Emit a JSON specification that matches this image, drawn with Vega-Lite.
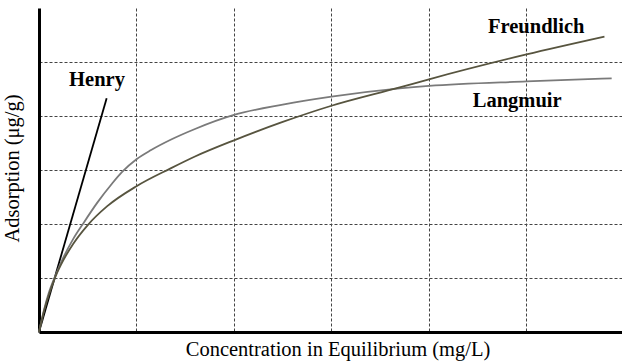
{
  "$schema": "https://vega.github.io/schema/vega-lite/v6.json",
  "width": 583,
  "height": 324,
  "autosize": "none",
  "padding": {"left": 39, "top": 8, "right": 0, "bottom": 30},
  "background": "white",
  "config": {
    "view": {"stroke": null},
    "axis": {
      "grid": true,
      "gridColor": "#444444",
      "gridDash": [3, 2],
      "gridWidth": 1,
      "labels": false,
      "ticks": false,
      "domain": true,
      "domainColor": "black",
      "domainWidth": 3,
      "titleFont": "Liberation Serif",
      "titleFontWeight": "normal",
      "titleColor": "black",
      "titleFontSize": 20.5
    }
  },
  "datasets": {
    "curves": [
      {"series": "Henry", "i": 0, "x": 0, "y": 0},
      {"series": "Henry", "i": 1, "x": 0.694, "y": 4.328},
      {"series": "Langmuir", "i": 0, "x": 0, "y": 0},
      {"series": "Langmuir", "i": 1, "x": 0.05, "y": 0.4},
      {"series": "Langmuir", "i": 2, "x": 0.1, "y": 0.72},
      {"series": "Langmuir", "i": 3, "x": 0.17, "y": 1.05},
      {"series": "Langmuir", "i": 4, "x": 0.25, "y": 1.38},
      {"series": "Langmuir", "i": 5, "x": 0.35, "y": 1.72},
      {"series": "Langmuir", "i": 6, "x": 0.45, "y": 2.0},
      {"series": "Langmuir", "i": 7, "x": 0.6, "y": 2.4},
      {"series": "Langmuir", "i": 8, "x": 0.75, "y": 2.75},
      {"series": "Langmuir", "i": 9, "x": 0.85, "y": 2.96},
      {"series": "Langmuir", "i": 10, "x": 1.0, "y": 3.2},
      {"series": "Langmuir", "i": 11, "x": 1.15, "y": 3.37},
      {"series": "Langmuir", "i": 12, "x": 1.35, "y": 3.56},
      {"series": "Langmuir", "i": 13, "x": 1.6, "y": 3.76},
      {"series": "Langmuir", "i": 14, "x": 2.0, "y": 4.02},
      {"series": "Langmuir", "i": 15, "x": 2.5, "y": 4.21},
      {"series": "Langmuir", "i": 16, "x": 3.0, "y": 4.357},
      {"series": "Langmuir", "i": 17, "x": 3.7, "y": 4.51},
      {"series": "Langmuir", "i": 18, "x": 4.0, "y": 4.556},
      {"series": "Langmuir", "i": 19, "x": 5.0, "y": 4.64},
      {"series": "Langmuir", "i": 20, "x": 5.874, "y": 4.698},
      {"series": "Freundlich", "i": 0, "x": 0, "y": 0},
      {"series": "Freundlich", "i": 1, "x": 0.05, "y": 0.38},
      {"series": "Freundlich", "i": 2, "x": 0.1, "y": 0.68},
      {"series": "Freundlich", "i": 3, "x": 0.17, "y": 1.03},
      {"series": "Freundlich", "i": 4, "x": 0.25, "y": 1.33},
      {"series": "Freundlich", "i": 5, "x": 0.35, "y": 1.63},
      {"series": "Freundlich", "i": 6, "x": 0.5, "y": 1.98},
      {"series": "Freundlich", "i": 7, "x": 0.7, "y": 2.33},
      {"series": "Freundlich", "i": 8, "x": 1.0, "y": 2.7},
      {"series": "Freundlich", "i": 9, "x": 1.35, "y": 3.03},
      {"series": "Freundlich", "i": 10, "x": 1.6, "y": 3.25},
      {"series": "Freundlich", "i": 11, "x": 2.0, "y": 3.55},
      {"series": "Freundlich", "i": 12, "x": 2.5, "y": 3.89},
      {"series": "Freundlich", "i": 13, "x": 3.0, "y": 4.19},
      {"series": "Freundlich", "i": 14, "x": 3.7, "y": 4.53},
      {"series": "Freundlich", "i": 15, "x": 4.0, "y": 4.68},
      {"series": "Freundlich", "i": 16, "x": 5.0, "y": 5.14},
      {"series": "Freundlich", "i": 17, "x": 5.8, "y": 5.47}
    ],
    "labels": [
      {"label": "Henry", "x": 0.595, "y": 4.556},
      {"label": "Freundlich", "x": 5.1, "y": 5.53},
      {"label": "Langmuir", "x": 4.905, "y": 4.17}
    ]
  },
  "layer": [
    {
      "data": {"name": "curves"},
      "mark": {"type": "line", "interpolate": "monotone", "strokeWidth": 1.8},
      "encoding": {
        "x": {
          "field": "x", "type": "quantitative",
          "scale": {"domain": [0, 5.98], "nice": false, "zero": false},
          "axis": {"values": [1, 2, 3, 4, 5], "title": "Concentration in Equilibrium (mg/L)",
                   "titleX": 298.5, "titleY": 23.5, "titleBaseline": "alphabetic", "titleAlign": "center", "titleAnchor": null}
        },
        "y": {
          "field": "y", "type": "quantitative",
          "scale": {"domain": [0, 6], "nice": false, "zero": false},
          "axis": {"values": [1, 2, 3, 4, 5], "title": "Adsorption (μg/g)",
                   "titleX": -20.3, "titleY": 160, "titleAngle": 270, "titleBaseline": "alphabetic", "titleAlign": "center", "titleAnchor": null}
        },
        "color": {
          "field": "series", "type": "nominal",
          "scale": {"domain": ["Henry", "Langmuir", "Freundlich"], "range": ["#000000", "#7a7a7a", "#57543f"]},
          "legend": null
        },
        "order": {"field": "i", "type": "quantitative"}
      }
    },
    {
      "mark": {"type": "rule", "color": "black", "strokeWidth": 3},
      "encoding": {"y": {"datum": 6}}
    },
    {
      "data": {"name": "labels"},
      "mark": {"type": "text", "font": "Liberation Serif", "fontWeight": "bold", "fontSize": 20.5, "align": "center", "baseline": "alphabetic", "color": "black"},
      "encoding": {
        "x": {"field": "x", "type": "quantitative"},
        "y": {"field": "y", "type": "quantitative"},
        "text": {"field": "label"}
      }
    }
  ]
}
